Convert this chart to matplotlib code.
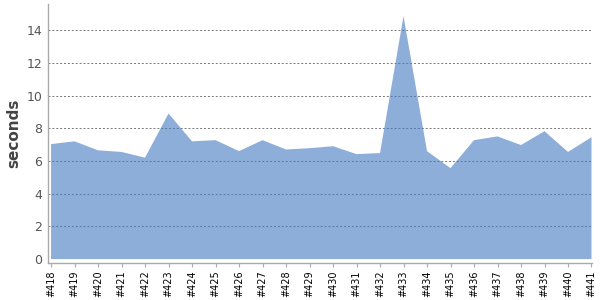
import matplotlib.pyplot as plt

builds = ["#418", "#419", "#420", "#421", "#422", "#423", "#424", "#425",
          "#426", "#427", "#428", "#429", "#430", "#431", "#432", "#433",
          "#434", "#435", "#436", "#437", "#438", "#439", "#440", "#441"]
durations = [7.03, 7.2, 6.65, 6.55, 6.2, 8.9, 7.2, 7.27,
             6.6, 7.27, 6.7, 6.78, 6.9, 6.42, 6.48, 14.85,
             6.6, 5.56, 7.27, 7.5, 6.97, 7.82, 6.55, 7.45]
yticks = [0, 2, 4, 6, 8, 10, 12, 14]


def main():
    fig = plt.figure(figsize=(6, 3), dpi=100)
    ax = fig.add_axes([0.08, 0.123, 0.907, 0.864])

    x = list(range(len(builds)))
    ax.fill_between(x, durations, 0, facecolor="#4279C0", alpha=0.6,
                    edgecolor="none", zorder=2)

    ax.set_xlim(-0.13, len(builds) - 1 + 0.03)
    ax.set_ylim(-0.245, 15.6)
    ax.set_yticks(yticks)
    ax.set_xticks(x)
    ax.set_xticklabels(builds, rotation=90, fontsize=7, color="black")
    ax.tick_params(axis="x", length=3, color="#aaaaaa", pad=2)
    ax.tick_params(axis="y", length=0, labelsize=9, labelcolor="#555555", pad=4)

    ax.yaxis.grid(True, linestyle=(0, (2, 2)), color="#777777", linewidth=0.7, zorder=1)
    ax.set_axisbelow(True)
    # no dotted line under the area's base
    ax.yaxis.get_gridlines()[0].set_visible(False)

    for side in ("top", "right"):
        ax.spines[side].set_visible(False)
    for side in ("left", "bottom"):
        ax.spines[side].set_color("#aaaaaa")
        ax.spines[side].set_linewidth(1)

    ax.set_ylabel("seconds", fontsize=11, fontweight="bold", color="#444444", labelpad=4)

    fig.savefig("out.png", dpi=100)


if __name__ == "__main__":
    main()
